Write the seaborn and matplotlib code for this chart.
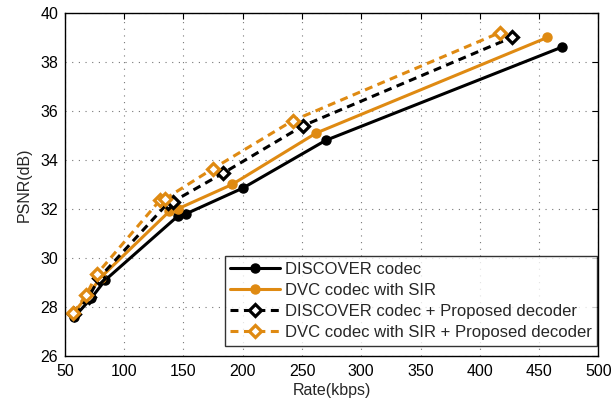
import matplotlib
matplotlib.use("Agg")
import matplotlib.pyplot as plt
import seaborn as sns
import pandas as pd

# Data
disc_x = [58, 72, 84, 145, 152, 200, 270, 469]
disc_y = [27.6, 28.35, 29.1, 31.7, 31.8, 32.85, 34.8, 38.6]
sir_x = [57, 69, 80, 138, 145, 191, 262, 457]
sir_y = [27.75, 28.45, 29.2, 31.9, 32.0, 33.0, 35.1, 39.0]
discp_x = [58, 70, 79, 137, 141, 183, 251, 427]
discp_y = [27.7, 28.4, 29.2, 32.25, 32.3, 33.45, 35.4, 39.0]
sirp_x = [57, 68, 77, 130, 134, 175, 242, 417]
sirp_y = [27.75, 28.5, 29.35, 32.35, 32.4, 33.65, 35.6, 39.2]

names = ["DISCOVER codec", "DVC codec with SIR",
         "DISCOVER codec + Proposed decoder", "DVC codec with SIR + Proposed decoder"]
xticks = [50, 100, 150, 200, 250, 300, 350, 400, 450, 500]
yticks = [26, 28, 30, 32, 34, 36, 38, 40]

sns.set_theme(style="white")
plt.rcParams['font.family'] = ['Liberation Sans', 'DejaVu Sans']

ORANGE = '#DF8A12'
fig = plt.figure(figsize=(6.13, 4.05), dpi=100)
ax = fig.add_axes([0.106, 0.121, 0.870, 0.847])

series = [(disc_x, disc_y), (sir_x, sir_y), (discp_x, discp_y), (sirp_x, sirp_y)]
styles = [
    dict(color='black', marker='o', markersize=6.5, dashes=False, lw=2.2, mfc='black', mec='black', mew=1),
    dict(color=ORANGE, marker='o', markersize=6.5, dashes=False, lw=2.2, mfc=ORANGE, mec=ORANGE, mew=1),
    dict(color='black', marker='D', markersize=6.5, dashes=True, lw=2.2, mfc='white', mec='black', mew=2.3),
    dict(color=ORANGE, marker='D', markersize=6.5, dashes=True, lw=2.2, mfc='white', mec=ORANGE, mew=2.3),
]
for (xs, ys), name, st in zip(series, names, styles):
    df = pd.DataFrame({"x": xs, "y": ys})
    kw = {}
    if st['dashes']:
        kw['linestyle'] = (0, (2.6, 1.8))
    sns.lineplot(data=df, x="x", y="y", ax=ax, color=st['color'], marker=st['marker'],
                 markersize=st['markersize'], linewidth=st['lw'], markerfacecolor=st['mfc'],
                 markeredgecolor=st['mec'], markeredgewidth=st['mew'], label=name,
                 sort=False, **kw)

ax.set_xlim(50, 500)
ax.set_ylim(26, 40)
ax.set_xticks(xticks)
ax.set_yticks(yticks)
ax.grid(True, linestyle=(0, (1, 5)), color='#777777', linewidth=0.8)
ax.tick_params(direction='in', length=4, width=0.8, top=True, right=True,
               labelsize=11.5, colors='black', pad=5)
ax.tick_params(axis='x', pad=6)
for s in ax.spines.values():
    s.set_color('black')
    s.set_linewidth(1.0)
ax.set_xlabel("Rate(kbps)", fontsize=11.5, labelpad=3)
ax.set_ylabel("PSNR(dB)", fontsize=11.5, labelpad=6)

leg = ax.legend(loc='lower right', bbox_to_anchor=(0.998, 0.03), fontsize=12, frameon=True,
                fancybox=False, edgecolor='black', handlelength=2.95, borderaxespad=0.0,
                labelspacing=0.36, handletextpad=0.3, borderpad=0.35)
leg.get_frame().set_linewidth(1.0)

fig.savefig("out.png", dpi=100)
